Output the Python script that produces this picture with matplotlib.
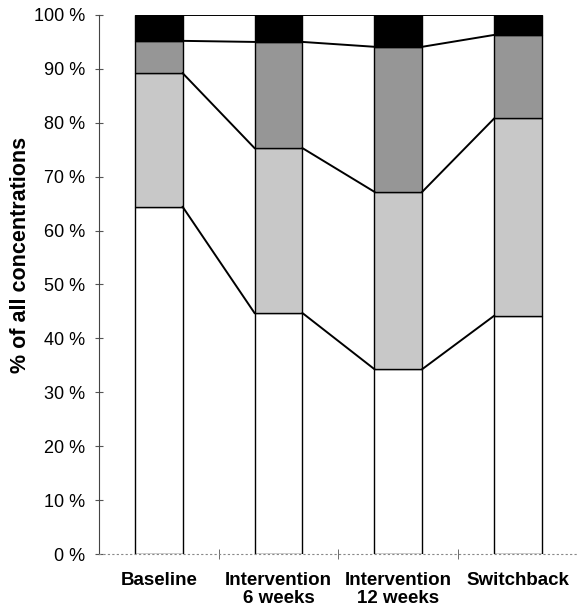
import numpy as np
import matplotlib
matplotlib.use("Agg")
import matplotlib.pyplot as plt

plt.rcParams['font.family'] = ['Liberation Sans', 'DejaVu Sans']

categories = ["Baseline", "Intervention\n6 weeks", "Intervention\n12 weeks", "Switchback"]
# percent shares per band, bottom to top
band1 = [64.4, 44.7, 34.3, 44.2]
band2 = [24.8, 30.6, 32.9, 36.6]
band3 = [6.0, 19.7, 26.9, 15.5]
band4 = [4.8, 5.0, 5.9, 3.7]
colors = ["white", "#c8c8c8", "#969696", "black"]

fig = plt.figure(figsize=(5.78, 6.09), dpi=100)
ax = fig.add_axes([0.171, 0.0903, 0.829, 0.8851])

x = np.arange(len(categories))
w = 0.4
bottom = np.zeros(len(categories))
for vals, c in zip([band1, band2, band3, band4], colors):
    ax.bar(x, vals, w, bottom=bottom, color=c, edgecolor="black", linewidth=1.0, zorder=2)
    bottom = bottom + np.array(vals)
    # connecting lines between bars at cumulative level
    for i in range(len(categories) - 1):
        ax.plot([x[i] + w / 2, x[i + 1] - w / 2], [bottom[i], bottom[i + 1]],
                color="black", linewidth=1.4, zorder=3)

ax.set_xlim(-0.5, 3.5)
ax.set_ylim(0, 100)
ax.set_yticks(np.arange(0, 101, 10))
ax.set_yticklabels([f"{v} %" for v in range(0, 101, 10)], fontsize=13)
ax.set_ylabel("% of all concentrations", fontsize=15.5, fontweight="bold")
ax.yaxis.set_label_coords(-0.142, 0.555)

ax.set_xticks(x)
ax.set_xticklabels(categories, fontsize=13.5, fontweight="bold", linespacing=1.05)
ax.set_xticks([0.5, 1.5, 2.5], minor=True)
ax.tick_params(axis="x", which="major", length=0, pad=13)
ax.tick_params(axis="x", which="minor", length=7, direction="inout", color="#555555")
ax.tick_params(axis="y", length=6, direction="inout", width=0.8, color="#555555", pad=7)

for s in ["top", "right"]:
    ax.spines[s].set_visible(False)
ax.spines["left"].set_color("#444444")
ax.spines["bottom"].set_linestyle((0, (1, 3)))
ax.spines["bottom"].set_color("#888888")

fig.savefig("out.png", dpi=100)
